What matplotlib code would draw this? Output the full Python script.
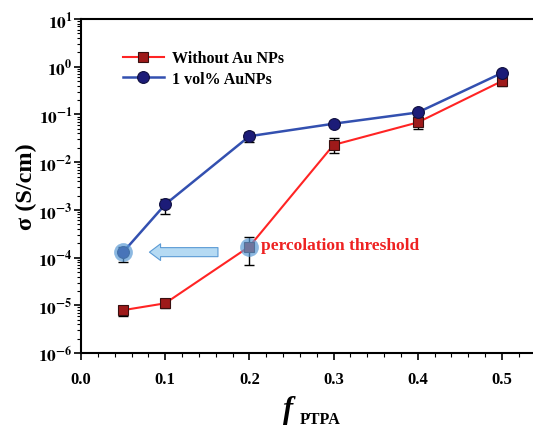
import matplotlib
matplotlib.use("Agg")
import matplotlib.pyplot as plt
import numpy as np
from matplotlib.ticker import FixedLocator, MultipleLocator, LogLocator, NullFormatter

plt.rcParams['font.family'] = 'Liberation Serif'
plt.rcParams['mathtext.fontset'] = 'stix'

# data
f_ptpa = [0.05, 0.1, 0.2, 0.3, 0.4, 0.5]
sigma_plain = [7.9e-6, 1.1e-5, 1.7e-4, 0.023, 0.068, 0.50]
plain_hi = [9.5e-6, 1.35e-5, 2.75e-4, 0.032, 0.087, 0.63]
plain_lo = [5.9e-6, 8.6e-6, 7.0e-5, 0.0155, 0.050, 0.40]
sigma_au = [1.3e-4, 1.3e-3, 0.035, 0.064, 0.11, 0.74]
au_hi = [1.7e-4, 1.7e-3, 0.042, 0.072, 0.125, 0.82]
au_lo = [7.9e-5, 8.0e-4, 0.027, 0.057, 0.097, 0.66]
highlight_x = [0.05, 0.2]
highlight_y = [1.3e-4, 1.7e-4]
xtick_vals = [0.0, 0.1, 0.2, 0.3, 0.4, 0.5]
ytick_exps = [-6, -5, -4, -3, -2, -1, 0, 1]

fig = plt.figure(figsize=(5.33, 4.27), dpi=100)
ax = fig.add_axes([0.152, 0.171, 0.848, 0.782])

err_plain = [np.array(sigma_plain) - np.array(plain_lo), np.array(plain_hi) - np.array(sigma_plain)]
err_au = [np.array(sigma_au) - np.array(au_lo), np.array(au_hi) - np.array(sigma_au)]

ax.errorbar(f_ptpa, sigma_plain, yerr=err_plain, fmt='none', ecolor='black',
            elinewidth=1, capsize=3.5, capthick=1, zorder=2)
ax.errorbar(f_ptpa, sigma_au, yerr=err_au, fmt='none', ecolor='black',
            elinewidth=1, capsize=3.5, capthick=1, zorder=2)
ax.plot(f_ptpa, sigma_plain, color='#ff2424', lw=1.5, marker='s', ms=7,
        mfc='#9e1a1a', mec='#3a1010', mew=0.8, label='Without Au NPs', zorder=3)
ax.plot(f_ptpa, sigma_au, color='#3350b0', lw=1.8, marker='o', ms=8.5,
        mfc='#1c1c78', mec='#101040', mew=0.8, label='1 vol% AuNPs', zorder=4)

# highlight circles
ax.plot(highlight_x, highlight_y, ls='none', marker='o', ms=13.5,
        mfc='#5b9bd5', mec='none', alpha=0.7, zorder=5)

# arrow
ax.annotate('', xy=(0.078, 1.3e-4), xytext=(0.166, 1.3e-4),
            arrowprops=dict(arrowstyle='simple,head_width=1.2,head_length=0.8,tail_width=0.65',
                            fc='#b5daf3', ec='#5b9bd5', lw=0.8), zorder=5)
ax.text(0.214, 1.85e-4, 'percolation threshold', color='#ee2222', fontsize=12.5,
        fontweight='bold', va='center', ha='left')

ax.set_yscale('log')
ax.set_ylim(1e-6, 10)
ax.set_xlim(0, 0.537)
ax.yaxis.set_major_locator(FixedLocator([10.0 ** e for e in ytick_exps]))
ax.set_yticklabels([r'$\mathbf{10^{%d}}$' % e for e in ytick_exps], fontsize=12.5)
ax.yaxis.set_minor_locator(LogLocator(base=10, subs=np.arange(2, 10), numticks=20))
ax.yaxis.set_minor_formatter(NullFormatter())
ax.set_xticks(xtick_vals)
ax.set_xticklabels(['%.1f' % v for v in xtick_vals], fontsize=12, fontweight='bold')
ax.xaxis.set_minor_locator(MultipleLocator(0.02))
ax.tick_params(which='major', direction='out', length=5, width=1.2, pad=8)
ax.tick_params(axis='y', which='major', pad=1)
ax.tick_params(which='minor', direction='out', length=3, width=0.8)
ax.spines['right'].set_visible(False)
for s in ['left', 'bottom', 'top']:
    ax.spines[s].set_linewidth(1.5)

ax.set_ylabel('σ (S/cm)', fontsize=17.5, fontweight='bold')
ax.yaxis.set_label_coords(-0.097, 0.5)
fig.text(0.54, 0.02, 'f', fontsize=22, fontweight='bold', style='italic', ha='center')
fig.text(0.563, 0.006, 'PTPA', fontsize=11.5, fontweight='bold', ha='left')

leg = ax.legend(loc='upper left', bbox_to_anchor=(0.06, 0.95), frameon=False,
                prop={'weight': 'bold', 'size': 11.5}, handlelength=2.6,
                handletextpad=0.5, labelspacing=0.3)

fig.savefig('out.png', dpi=100)
